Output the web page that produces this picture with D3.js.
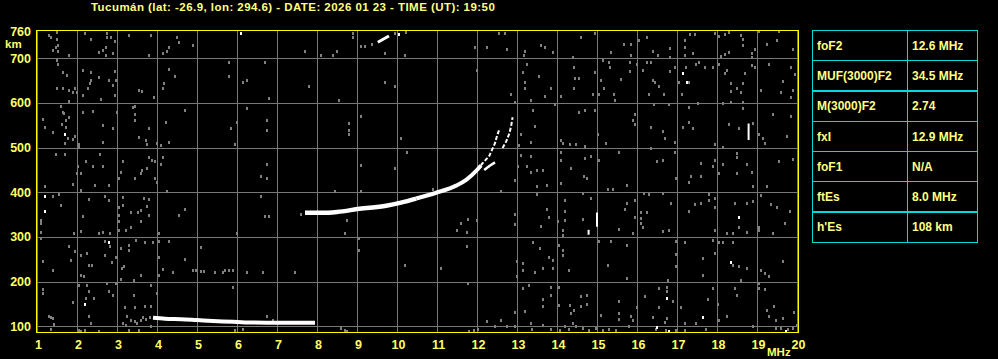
<!DOCTYPE html>
<html>
<head>
<meta charset="utf-8">
<script src="https://cdn.jsdelivr.net/npm/d3@7"></script>
<style>
  html, body { margin: 0; padding: 0; background: #000; }
  svg { display: block; }
  text { font-family: "Liberation Sans", Arial, sans-serif; font-weight: bold; }
</style>
</head>
<body>
<svg id="chart" width="998" height="359"></svg>
<script>
var width = 998,
    height = 359;

var title = "Tucumán (lat: -26.9, lon: 294.6) - DATE: 2026 01 23 - TIME (UT): 19:50";

var freqTicks = [1, 2, 3, 4, 5, 6, 7, 8, 9, 10, 11, 12, 13, 14, 15, 16, 17, 18, 19, 20];
var heightTicks = [100, 200, 300, 400, 500, 600, 700];
var topHeight = 760;

var paramNames = ["foF2", "MUF(3000)F2", "M(3000)F2", "fxI", "foF1", "ftEs", "h'Es"];
var paramValues = ["12.6 MHz", "34.5 MHz", "2.74", "12.9 MHz", "N/A", "8.0 MHz", "108 km"];

// echo traces, [MHz, km]
var esTrace = [[3.9, 119], [4.2, 117], [4.6, 116], [5.0, 114], [5.4, 112], [5.9, 110], [6.2, 108.5], [7.0, 108], [7.95, 108]];
var fTraceLow = [[7.7, 354], [8.1, 354], [8.5, 356], [9.06, 363], [9.73, 370], [10.1, 377], [10.48, 386]];
var fTraceHigh = [[10.48, 386], [10.98, 399], [11.48, 415], [11.73, 428], [11.98, 448], [12.1, 460]];
var oTrace = [[12.0, 450], [12.14, 465], [12.31, 482], [12.45, 510], [12.5, 526], [12.56, 541]];
var xTrace = [[12.18, 450], [12.31, 459], [12.45, 467]];
var xTrace2 = [[12.64, 499], [12.73, 514], [12.81, 532], [12.85, 547], [12.89, 568]];
var hop2Trace = [[9.52, 736], [9.62, 741], [9.72, 746], [9.8, 750]];

// bright isolated echoes
var whiteDots = [[1.70, 531], [1.20, 391], [1.20, 358], [2.79, 288], [2.20, 151], [6.10, 757], [10.06, 754],
  [17.14, 666], [17.25, 648], [18.54, 344], [18.35, 244], [16.75, 163], [17.64, 121], [16.49, 98],
  [16.81, 89], [19.73, 89]];
var whiteBars = [[[18.79, 554], [18.79, 517]], [[15.0, 355], [15.0, 323]], [[14.79, 316], [14.79, 305]]];

// scattered grey noise
var noiseA = [[1.31,752],[1.35,748],[1.50,759],[1.50,744],[1.52,729],[1.48,726],[1.39,718],[1.52,717],[1.81,707],
  [2.21,756],[2.35,744],[2.74,756],[2.75,747],[2.85,748],[2.95,739],[2.73,726],[2.56,715],[2.64,718],[2.73,707],
  [2.89,711],[3.31,752],[3.85,752],[3.81,707],[4.14,712],[4.24,717],[4.31,726],[4.49,748],[4.54,737],[4.89,729],
  [1.49,696],[1.53,688],[1.64,670],[1.75,662],[1.50,633],[1.64,633],[1.81,629],[1.89,625],[1.95,633],[1.99,625],
  [1.81,605],[2.14,674],[2.35,670],[2.35,651],[2.33,644],[2.27,633],[2.14,618],[2.56,659],[2.79,651],[2.95,671],
  [2.98,651],[2.91,640],[2.95,618],[2.60,610],[3.56,629],[3.63,627],[3.93,614],[4.18,644],[4.14,633],[4.31,677],
  [4.45,660],[1.60,593],[1.64,580],[1.68,577],[1.81,568],[1.73,562],[1.63,554],[1.14,563],[1.20,547],[1.39,536],
  [1.73,547],[1.77,521],[1.71,510],[1.89,519],[1.95,526],[2.04,508],[2.04,501],[2.14,580],[2.39,582],[2.64,551],
  [2.64,513],[2.89,543],[3.00,580],[3.39,592],[3.45,593],[3.45,575],[3.45,562],[3.79,543],[3.56,523],[3.73,517],
  [3.74,508],[3.99,510],[4.10,506],[4.22,558],[4.31,513],[4.70,584],[1.48,486],[1.70,486],[2.02,458],[2.00,443],
  [2.10,443],[2.23,469],[2.39,459],[2.64,460],[2.58,486],[2.45,417],[2.79,417],[1.89,419],[2.10,405],[3.06,433],
  [3.10,446],[3.16,469],[3.45,433],[3.62,450],[3.60,443],[3.74,454],[3.79,478],[3.88,472],[3.94,469],[3.96,433],
  [3.99,423],[4.14,478],[4.10,464],[4.24,404],[1.20,413],[1.39,391],[1.54,396],[1.60,372],[1.10,338],[1.10,331],
  [1.10,312],[1.10,297],[1.93,310],[2.10,314],[2.14,346],[2.29,386],[2.56,310],[2.64,312],[2.71,391],[2.79,383],
  [2.83,309],[3.04,366],[3.04,350],[3.14,372],[3.16,389],[3.06,335],[3.06,316],[3.35,355],[3.35,323],[3.52,355],
  [3.60,361],[3.60,335],[3.68,388],[3.75,370],[3.81,385],[3.81,350],[3.23,316],[4.06,310],[4.56,350],[4.70,363],
  [1.79,280],[1.95,268],[2.10,260],[2.25,265],[2.31,238],[2.38,238],[2.10,215],[2.18,212],[1.85,249],[1.14,247],
  [1.39,227],[2.70,290],[2.71,260],[2.83,280],[2.88,245],[2.98,256],[3.10,275],[3.18,234],[3.12,230],[3.31,271],
  [3.29,282],[3.48,294],[3.70,288],[3.91,288],[4.06,292],[4.04,256],[4.06,215],[4.14,228],[4.31,292],[4.39,221],
  [4.70,251],[5.10,277],[4.89,225],[4.98,225],[5.10,223],[5.18,223],[5.46,221],[5.64,221],[5.71,225],[3.60,215],
  [3.43,203],[3.10,206],[1.14,184],[1.14,174],[1.89,154],[2.04,193],[2.25,193],[2.29,178],[2.29,122],[2.35,107],
  [2.23,163],[2.43,163],[2.79,180],[2.89,171],[2.98,197],[2.74,197],[3.43,171],[3.85,193],[3.99,174],[3.20,143],
  [3.45,143],[3.70,146],[3.85,146],[3.24,124],[3.35,113],[3.46,111],[3.49,107],[3.60,115],[3.64,121],[3.73,116],
  [3.82,121],[1.31,124],[1.35,121],[1.39,119],[1.43,106],[3.14,107],[3.23,104],[1.35,94],[2.04,92],[2.10,89],
  [2.21,91],[2.56,89],[3.29,91],[3.54,92],[3.85,101]];
var noiseB = [[8.89,756],[8.89,747],[9.10,727],[9.21,727],[9.37,732],[9.69,711],[9.96,757],[10.22,759],[10.20,707],
  [7.70,717],[8.10,707],[8.39,707],[8.50,717],[5.79,692],[6.70,692],[5.81,661],[6.14,648],[6.24,651],[7.79,639],
  [6.79,612],[8.56,607],[9.69,648],[9.96,639],[6.24,589],[6.74,562],[5.99,558],[5.85,545],[6.74,540],[8.79,556],
  [8.79,540],[8.79,531],[9.10,571],[5.95,508],[10.10,522],[10.25,491],[6.74,464],[6.60,437],[6.74,433],[9.10,461],
  [9.95,455],[8.45,403],[9.10,403],[6.60,391],[6.70,346],[6.79,347],[7.59,351],[8.74,337],[8.70,310],[5.99,310],
  [9.04,297],[9.04,271],[10.20,238],[5.79,225],[5.89,225],[6.25,221],[6.64,221],[7.45,221],[5.89,189],[6.74,124],
  [6.89,115],[6.14,94],[5.95,92],[8.60,96],[8.70,92],[8.74,89]];
var noiseC = [[12.54,757],[12.70,757],[11.95,726],[12.24,726],[12.74,721],[13.60,729],[13.70,726],[13.89,715],
  [13.20,717],[13.18,707],[14.60,748],[14.95,757],[14.39,703],[13.24,688],[13.14,670],[11.99,674],[13.56,661],
  [13.20,648],[13.20,634],[13.85,633],[14.10,616],[14.43,681],[14.45,657],[14.56,657],[14.43,633],[14.95,670],
  [15.10,651],[15.18,634],[15.14,697],[14.89,620],[15.06,621],[12.85,620],[12.95,603],[13.35,607],[13.70,616],
  [13.95,598],[13.39,584],[14.56,580],[14.70,584],[14.95,584],[13.45,548],[13.10,531],[13.35,513],[14.10,517],
  [14.14,510],[14.33,508],[14.48,508],[14.70,504],[15.02,531],[15.23,510],[13.04,506],[13.10,484],[13.35,481],
  [13.03,458],[13.24,459],[13.35,446],[13.49,449],[13.64,450],[14.10,491],[14.10,472],[14.35,455],[14.70,476],
  [14.85,481],[15.04,472],[14.68,437],[14.74,433],[14.10,420],[13.74,417],[13.49,413],[13.49,396],[12.95,428],
  [12.60,403],[10.89,408],[14.64,399],[14.85,388],[14.20,383],[14.20,358],[13.74,363],[13.81,344],[14.02,335],
  [14.20,338],[14.14,316],[14.14,305],[13.60,325],[11.78,340],[11.60,332],[11.49,315],[11.74,312],[11.99,337],
  [12.95,351],[12.95,329],[14.64,340],[15.04,292],[11.74,280],[13.41,288],[13.58,275],[14.06,282],[14.14,271],
  [14.14,260],[13.81,256],[13.91,249],[13.91,230],[13.64,230],[13.45,221],[14.31,225],[13.14,241],[13.14,225],
  [12.99,247],[12.99,212],[11.10,230],[11.78,198],[13.29,193],[13.14,186],[13.85,187],[13.85,169],[14.04,189],
  [14.06,148],[14.33,148],[14.35,130],[14.43,137],[14.60,167],[14.60,146],[14.74,151],[14.74,171],[15.10,126],
  [13.64,161],[13.64,145],[13.20,134],[13.35,107],[12.95,131],[12.95,101],[12.74,100],[12.60,113],[12.46,101],
  [12.25,111],[12.02,94],[11.93,92],[11.81,89],[13.37,94],[13.64,104],[13.85,94],[14.08,91],[14.21,100],
  [14.31,94],[14.39,107],[14.48,101],[14.64,96],[14.81,91],[14.98,96],[15.14,92]];
var noiseD = [[15.35,715],[15.68,733],[15.85,733],[15.85,707],[16.04,742],[16.24,748],[16.39,717],[16.53,707],
  [16.83,722],[16.83,702],[17.20,741],[17.20,726],[17.20,707],[17.33,754],[17.45,754],[17.39,712],[17.56,692],
  [17.95,757],[18.04,750],[18.20,754],[18.31,759],[18.10,705],[18.20,709],[18.31,715],[18.60,752],[18.64,744],
  [18.64,729],[18.87,711],[18.95,720],[18.87,702],[19.06,761],[19.25,733],[19.50,741],[19.56,761],[19.89,721],
  [15.29,692],[15.33,680],[15.83,692],[15.83,672],[15.99,688],[16.14,674],[16.24,692],[16.35,692],[16.39,651],
  [16.46,646],[16.54,639],[16.29,621],[16.68,621],[16.83,672],[16.95,681],[17.04,648],[17.13,621],[17.23,681],
  [17.29,648],[17.47,688],[17.70,680],[17.89,680],[18.06,688],[18.20,666],[18.24,674],[18.35,645],[18.35,627],
  [18.49,633],[18.60,625],[18.64,644],[18.70,666],[18.87,685],[18.95,681],[19.10,629],[19.29,688],[19.64,650],
  [19.60,625],[19.85,681],[19.95,664],[19.91,630],[19.85,614],[15.43,621],[15.45,607],[15.60,653],[16.43,598],
  [16.81,598],[17.29,592],[17.53,601],[18.35,603],[18.64,603],[18.64,589],[18.14,601],[15.95,575],[15.89,562],
  [15.95,553],[16.35,547],[16.64,538],[16.71,522],[16.95,513],[17.14,547],[17.29,558],[17.41,543],[17.95,508],
  [18.14,502],[18.29,553],[18.54,545],[18.89,556],[19.06,531],[19.14,521],[19.21,510],[19.39,575],[19.75,526],
  [19.85,571],[15.54,491],[16.35,499],[16.49,471],[16.64,472],[16.95,491],[16.98,433],[17.31,422],[17.35,437],
  [17.60,465],[17.60,437],[17.89,458],[17.95,472],[18.06,443],[18.14,464],[18.49,489],[18.49,480],[18.49,443],
  [18.74,464],[18.87,446],[18.89,413],[19.25,413],[19.56,471],[19.89,474],[15.27,407],[15.39,407],[15.75,417],
  [16.18,398],[16.29,396],[16.85,377],[16.66,398],[15.75,376],[15.70,363],[15.95,383],[15.95,344],[16.10,357],
  [16.10,342],[16.10,332],[16.24,357],[16.14,323],[15.89,310],[15.54,318],[16.64,314],[16.79,316],[17.29,358],
  [17.45,373],[17.60,377],[17.79,396],[17.79,382],[17.95,387],[17.95,366],[17.95,315],[18.45,377],[18.74,376],
  [18.89,381],[18.74,312],[18.54,323],[18.39,309],[18.24,310],[19.04,323],[19.04,316],[19.10,394],[19.35,373],
  [19.50,366],[19.83,358],[19.70,332],[19.39,309],[15.35,290],[15.75,282],[16.98,292],[16.98,262],[16.98,236],
  [17.20,288],[17.64,253],[17.64,215],[17.89,294],[18.04,288],[18.14,288],[17.95,265],[18.39,288],[18.39,238],
  [18.56,234],[18.74,230],[19.64,247],[19.10,227],[19.21,219],[19.29,212],[18.60,203],[19.04,197],[19.04,186],
  [19.20,184],[15.75,208],[15.27,238],[16.77,204],[16.75,188],[16.75,180],[16.54,186],[16.20,167],[16.89,156],
  [17.10,143],[17.78,161],[17.89,186],[18.03,151],[18.45,186],[18.50,171],[15.56,156],[15.56,130],[15.56,116],
  [15.85,124],[15.89,115],[15.99,143],[16.39,121],[16.56,143],[16.75,119],[16.70,109],[17.20,107],[17.47,107],
  [18.04,113],[18.24,124],[18.89,100],[19.25,137],[19.31,122],[19.43,145],[19.48,115],[19.64,119],[19.92,131],
  [19.99,104],[15.29,94],[15.48,92],[15.81,101],[16.48,94],[16.73,92],[16.98,92],[17.20,92],[17.73,94],
  [19.48,96],[19.60,96],[19.77,94],[19.89,96]];

var svg = d3.select("#chart");

var x = d3.scaleLinear().domain([1, 20]).range([37, 797]);
var y = d3.scaleLinear().domain([100, 700]).range([326.3, 58.3]);

var yellow = "#ffff00",
    labelColor = "#ffff66",
    textColor = "#ffff80",
    grid = "#777777",
    noise = "#808080",
    cyan = "#00dcdc";

// title
svg.append("text")
    .attr("x", 91)
    .attr("y", 11)
    .attr("fill", textColor)
    .style("font-size", "11.5px")
    .style("letter-spacing", "0.45px")
    .text(title);

// grid
var gridG = svg.append("g").attr("shape-rendering", "crispEdges");
gridG.selectAll(".vgrid")
    .data(freqTicks)
    .enter().append("line")
    .attr("x1", function(d) { return Math.round(x(d)) + 0.5; })
    .attr("x2", function(d) { return Math.round(x(d)) + 0.5; })
    .attr("y1", 30).attr("y2", 333)
    .attr("stroke", grid);
gridG.selectAll(".hgrid")
    .data(heightTicks)
    .enter().append("line")
    .attr("y1", function(d) { return Math.round(y(d)) + 0.5; })
    .attr("y2", function(d) { return Math.round(y(d)) + 0.5; })
    .attr("x1", 36).attr("x2", 798)
    .attr("stroke", grid);

// noise
var noiseAll = noiseA.concat(noiseB, noiseC, noiseD);
svg.append("g").attr("shape-rendering", "crispEdges")
    .selectAll("rect")
    .data(noiseAll)
    .enter().append("rect")
    .attr("x", function(d) { return Math.round(x(d[0])) - 1; })
    .attr("y", function(d) { return Math.round(y(d[1])) - 1; })
    .attr("width", 2)
    .attr("height", 3)
    .attr("fill", noise);

// traces
var line = d3.line()
    .x(function(d) { return x(d[0]); })
    .y(function(d) { return y(d[1]); })
    .curve(d3.curveMonotoneX);
var lineY = d3.line()
    .x(function(d) { return x(d[0]); })
    .y(function(d) { return y(d[1]); });

function trace(data, w, color, dash, gen) {
    svg.append("path")
        .attr("d", (gen || line)(data))
        .attr("fill", "none")
        .attr("stroke", color)
        .attr("stroke-width", w)
        .attr("stroke-dasharray", dash || null);
}

trace(esTrace, 4, "#fff");
trace(fTraceLow, 4.5, "#fff");
trace(fTraceHigh, 4, "#fff");
trace(oTrace, 2, "#fff", "4,2", lineY);
trace(xTrace, 2.5, "#fff", null, lineY);
trace(xTrace2, 2, "#fff", "4,2", lineY);
trace(hop2Trace, 3, "#fff", null, lineY);

svg.append("g").selectAll("rect")
    .data(whiteDots)
    .enter().append("rect")
    .attr("x", function(d) { return Math.round(x(d[0])) - 1; })
    .attr("y", function(d) { return Math.round(y(d[1])) - 1; })
    .attr("width", 2)
    .attr("height", 3)
    .attr("fill", "#fff");

svg.append("g").selectAll("line")
    .data(whiteBars)
    .enter().append("line")
    .attr("x1", function(d) { return x(d[0][0]); })
    .attr("x2", function(d) { return x(d[1][0]); })
    .attr("y1", function(d) { return y(d[0][1]); })
    .attr("y2", function(d) { return y(d[1][1]); })
    .attr("stroke", "#fff")
    .attr("stroke-width", 2);

// frame
svg.append("rect")
    .attr("x", 36.5).attr("y", 30.5)
    .attr("width", 762).attr("height", 302)
    .attr("fill", "none")
    .attr("stroke", yellow)
    .attr("shape-rendering", "crispEdges");

// y labels
svg.selectAll(".ylab")
    .data(heightTicks.concat([topHeight]))
    .enter().append("text")
    .attr("x", 31)
    .attr("y", function(d) { return y(d) + 4.5; })
    .attr("text-anchor", "end")
    .attr("fill", labelColor)
    .style("font-size", "12.5px")
    .text(function(d) { return d; });
svg.append("text")
    .attr("x", 5).attr("y", 48)
    .attr("fill", labelColor)
    .style("font-size", "11.5px")
    .text("km");

// x labels
svg.selectAll(".xlab")
    .data(freqTicks)
    .enter().append("text")
    .attr("x", function(d) { return x(d) + 1.5; })
    .attr("y", 348.5)
    .attr("text-anchor", "middle")
    .attr("fill", labelColor)
    .style("font-size", "12.5px")
    .text(function(d) { return d; });
svg.append("text")
    .attr("x", 767).attr("y", 356)
    .attr("fill", labelColor)
    .style("font-size", "11.5px")
    .text("MHz");

// parameter table
var row = d3.scaleBand().domain(paramNames).range([30, 242]);
var table = svg.append("g");
var tableLeft = 812, tableMid = 907, tableRight = 977;

table.selectAll(".row")
    .data(paramNames)
    .enter().append("rect")
    .attr("x", tableLeft + 0.5)
    .attr("y", function(d) { return Math.round(row(d)) + 0.5; })
    .attr("width", tableRight - tableLeft)
    .attr("height", Math.round(row.bandwidth()))
    .attr("fill", "none")
    .attr("stroke", cyan)
    .attr("shape-rendering", "crispEdges");
table.append("line")
    .attr("x1", tableMid + 0.5).attr("x2", tableMid + 0.5)
    .attr("y1", 30).attr("y2", 243)
    .attr("stroke", cyan)
    .attr("shape-rendering", "crispEdges");
table.selectAll(".pname")
    .data(paramNames)
    .enter().append("text")
    .attr("x", 817)
    .attr("y", function(d) { return row(d) + row.bandwidth() / 2 + 4.5; })
    .attr("fill", textColor)
    .style("font-size", "12px")
    .text(function(d) { return d; });
table.selectAll(".pval")
    .data(paramValues)
    .enter().append("text")
    .attr("x", 912)
    .attr("y", function(d, i) { return row(paramNames[i]) + row.bandwidth() / 2 + 4.5; })
    .attr("fill", textColor)
    .style("font-size", "12px")
    .text(function(d) { return d; });
</script>
</body>
</html>
